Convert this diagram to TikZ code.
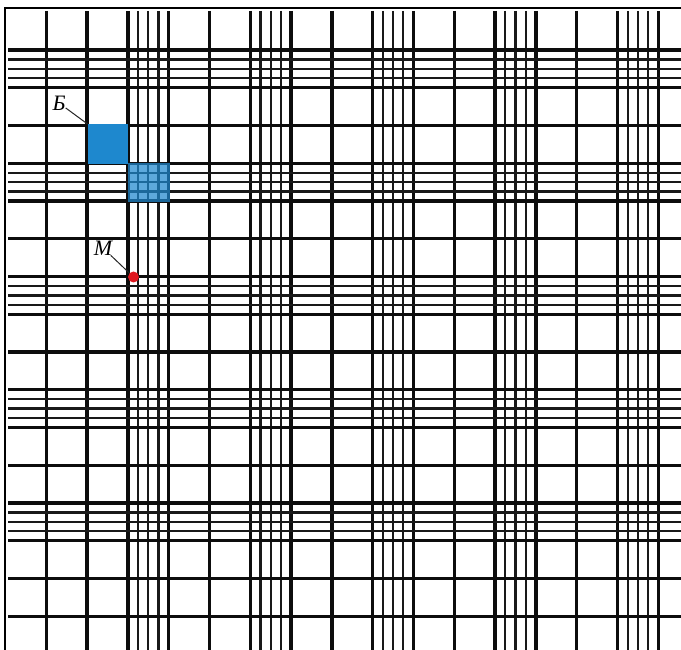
\documentclass[tikz,border=0pt]{standalone}
\usepackage{fontspec}
\setmainfont{Liberation Serif}
\usepackage{tikz}
\definecolor{cellblue}{RGB}{30,136,206}
\definecolor{dotred}{RGB}{222,24,32}
\tikzset{
    major/.style={line width=3.3pt, black!95},
    minor/.style={line width=2.3pt, black!90},
    frame/.style={line width=2.6pt, black},
    leader/.style={line width=1pt, black!85},
    lbl/.style={font=\itshape\fontsize{22}{22}\selectfont, inner sep=0pt},
}
\newcommand{\cellw}{40.8}
\newcommand{\cellh}{37.75}
\begin{document}
\begin{tikzpicture}[x=1pt, y=-1pt]
        \useasboundingbox (0,0) rectangle (681,650);
%       vertical lines
        \foreach \i in {1,...,16}
            \draw[major] ({5.5+\i*\cellw},11) -- (5.5+\i*\cellw,650);
        \foreach \i in {3,6,...,15}
            \foreach \k in {1,2,3}
                \draw[minor] ({5.5+(\i+\k/4)*\cellw},11) -- ++(0,639);
%       horizontal lines
        \foreach \j in {1,...,16}
            \draw[major] (8,{12.25+\j*\cellh}) -- ++(673,0);
        \foreach \j in {1,4,...,13}
            \foreach \k in {1,2,3}
                \draw[minor] (8,{12.25+(\j+\k/4)*\cellh}) -- ++(673,0);
%       frame
        \draw[frame] (5,650) -- (5,8) -- (681,8);
%
        \node[fill=cellblue, inner sep=0pt, minimum width=40.5pt, minimum height=40pt,
              anchor=north west] (bigsq) at (87.5,124) {};
        \node[fill=cellblue, fill opacity=0.72, inner sep=0pt, minimum width=42pt,
              minimum height=39pt, anchor=north west] (smallsq) at (127.5,162.5) {};
        \node[circle, fill=dotred, inner sep=0pt, minimum size=11pt] (mdot) at (133.5,277) {};
%
        \node[lbl] (blabel) at (59,103) {Б};
        \node[lbl] (mlabel) at (103,248) {M};
        \draw[leader] (blabel) -- (bigsq.north west);
        \draw[leader] (mlabel) -- (mdot);
\end{tikzpicture}
\end{document}
